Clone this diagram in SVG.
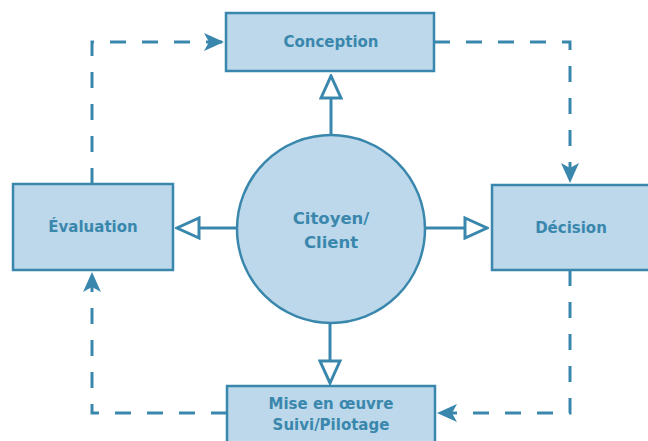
<svg xmlns="http://www.w3.org/2000/svg" width="648" height="441" viewBox="0 0 648 441">
  <style>
    .box { fill: #bcd8ea; stroke: #3a87ad; stroke-width: 2.5; }
    .lbl { font-family: "DejaVu Sans", "Liberation Sans", sans-serif; font-weight: bold; font-size: 15px; fill: #3a87ad; text-anchor: middle; dominant-baseline: central; }
    .big { font-size: 16.5px; }
    .flow { fill: none; stroke: #3a87ad; stroke-width: 3; stroke-dasharray: 16 16; }
    .solid { fill: none; stroke: #3a87ad; stroke-width: 3; }
  </style>
  <defs>
    <marker id="filled" viewBox="0 0 20 18" refX="20" refY="9" markerWidth="20" markerHeight="18" markerUnits="userSpaceOnUse" orient="auto">
      <path d="M0,0 L20,9 L0,18 L5,9 Z" fill="#3a87ad"/>
    </marker>
    <marker id="hollow" viewBox="-2 -2 26 24" refX="22" refY="10" markerWidth="26" markerHeight="24" markerUnits="userSpaceOnUse" orient="auto">
      <path d="M0,0 L22,10 L0,20 Z" fill="#ffffff" stroke="#3a87ad" stroke-width="3"/>
    </marker>
  </defs>

  <g id="connectors">
    <!-- cycle -->
    <path class="flow" d="M92,184 V42 H224" marker-end="url(#filled)"/>
    <path class="flow" d="M434,42 H570 V183" marker-end="url(#filled)"/>
    <path class="flow" d="M570,270 V413 H437" marker-end="url(#filled)"/>
    <path class="flow" d="M227,413 H92 V272" marker-end="url(#filled)"/>
    <!-- from the centre -->
    <path class="solid" d="M331,135 V76" marker-end="url(#hollow)"/>
    <path class="solid" d="M237,228 H177" marker-end="url(#hollow)"/>
    <path class="solid" d="M425,228 H487" marker-end="url(#hollow)"/>
    <path class="solid" d="M330,323 V383" marker-end="url(#hollow)"/>
  </g>

  <g id="conception">
    <rect class="box" x="226" y="13" width="208" height="58"/>
    <text class="lbl" x="331" y="42">Conception</text>
  </g>
  <g id="evaluation">
    <rect class="box" x="13" y="184" width="160" height="86"/>
    <text class="lbl" x="93" y="227">Évaluation</text>
  </g>
  <g id="decision">
    <rect class="box" x="492" y="185" width="170" height="85"/>
    <text class="lbl" x="571" y="228">Décision</text>
  </g>
  <g id="mise-en-oeuvre">
    <rect class="box" x="227" y="386" width="208" height="70"/>
    <text class="lbl" x="331" y="404">Mise en œuvre</text>
    <text class="lbl" x="331" y="425">Suivi/Pilotage</text>
  </g>
  <g id="citoyen">
    <circle class="box" cx="331" cy="229" r="94"/>
    <text class="lbl big" x="331" y="218">Citoyen/</text>
    <text class="lbl big" x="331" y="242">Client</text>
  </g>
</svg>
